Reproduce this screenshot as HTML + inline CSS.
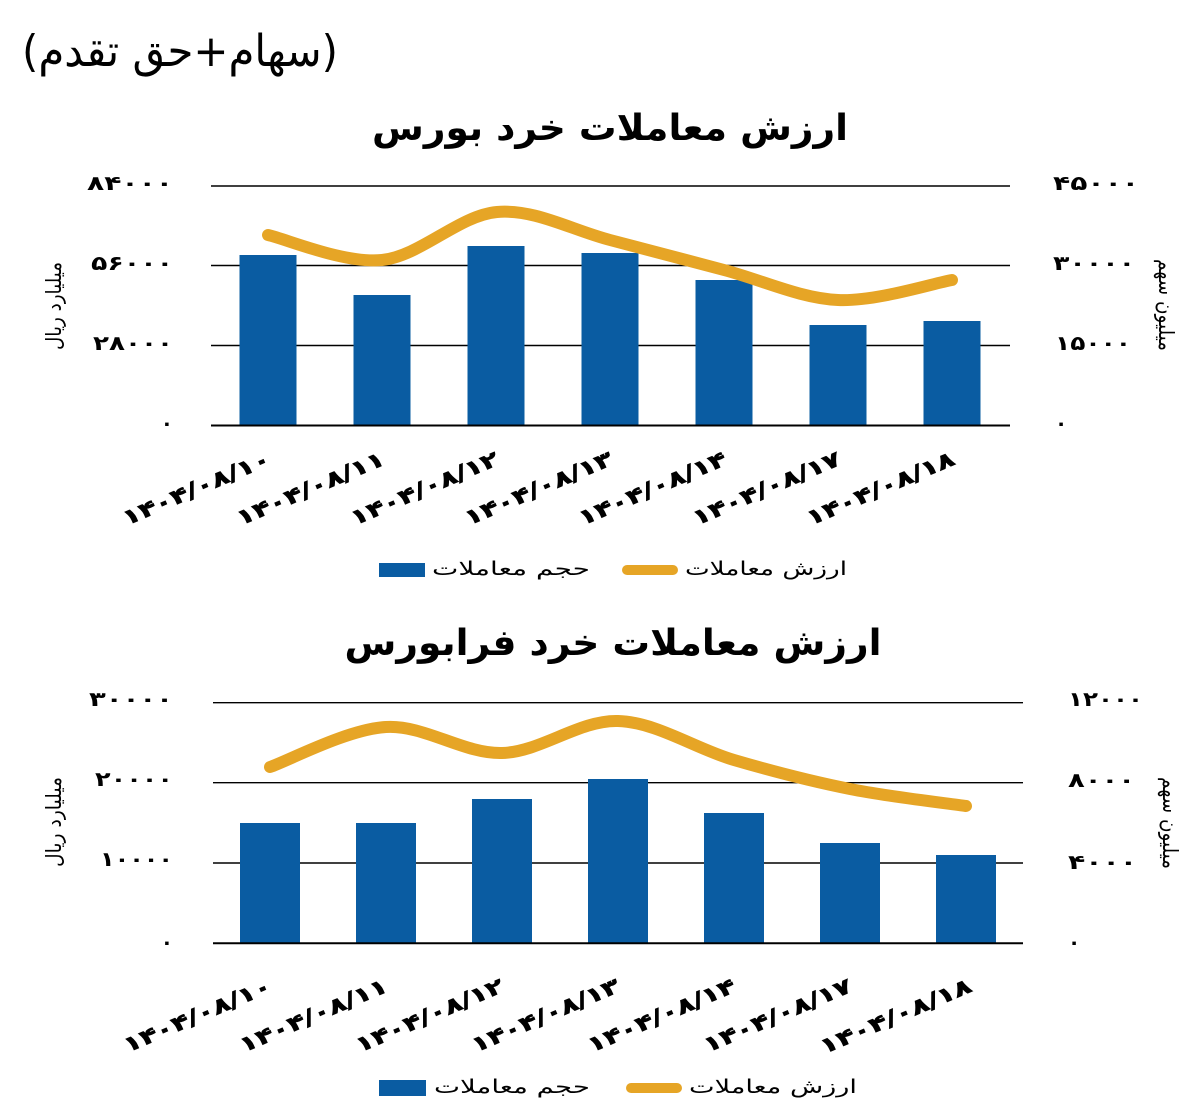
<!DOCTYPE html>
<html><head><meta charset="utf-8"><style>
html,body{margin:0;padding:0;background:#fff;}
svg{display:block;}
text{font-family:"DejaVu Sans","Liberation Sans",sans-serif;fill:#000;}
.b{font-weight:bold;}
.xl text{stroke:#000;stroke-width:0.7px;}
</style></head><body>
<svg width="1200" height="1115" viewBox="0 0 1200 1115" xmlns="http://www.w3.org/2000/svg">
<rect width="1200" height="1115" fill="#fff"/>

<!-- header -->
<text x="180" y="66" text-anchor="middle" direction="rtl" font-size="44" textLength="316" lengthAdjust="spacingAndGlyphs">(سهام+حق تقدم)</text>

<!-- ===== Chart 1 ===== -->
<text class="b" x="610" y="140" text-anchor="middle" direction="rtl" font-size="36" textLength="476" lengthAdjust="spacingAndGlyphs">ارزش معاملات خرد بورس</text>

<g stroke="#000" stroke-width="1.4">
<line x1="211" y1="186" x2="1010" y2="186"/>
<line x1="211" y1="265.5" x2="1010" y2="265.5"/>
<line x1="211" y1="345.5" x2="1010" y2="345.5"/>
</g>
<g fill="#0a5ca2">
<rect x="239.5" y="255" width="57" height="170.5"/>
<rect x="353.5" y="295" width="57" height="130.5"/>
<rect x="467.5" y="246" width="57" height="179.5"/>
<rect x="581.5" y="253" width="57" height="172.5"/>
<rect x="695.5" y="280" width="57" height="145.5"/>
<rect x="809.5" y="325" width="57" height="100.5"/>
<rect x="923.5" y="321" width="57" height="104.5"/>
</g>
<line x1="211" y1="425.5" x2="1010" y2="425.5" stroke="#000" stroke-width="2"/>
<path d="M268,235 C287,239.2 343.8,263.8 382,260 C420.2,256.2 459,215.3 497,212 C535,208.7 572.2,230.3 610,240 C647.8,249.7 686,260 724,270 C762,280 800,298.3 838,300 C876,301.7 933,283.3 952,280" fill="none" stroke="#e6a526" stroke-width="12" stroke-linecap="round" stroke-linejoin="round"/>

<!-- left ticks -->
<g class="b" font-size="20" text-anchor="end" direction="ltr">
<text x="173" y="190" textLength="86" lengthAdjust="spacingAndGlyphs">۸۴۰۰۰</text>
<text x="173" y="270" textLength="82" lengthAdjust="spacingAndGlyphs">۵۶۰۰۰</text>
<text x="173" y="350" textLength="80" lengthAdjust="spacingAndGlyphs">۲۸۰۰۰</text>
<text x="173" y="430">۰</text>
</g>
<!-- right ticks -->
<g class="b" font-size="20" text-anchor="start" direction="ltr">
<text x="1053" y="190" textLength="86" lengthAdjust="spacingAndGlyphs">۴۵۰۰۰</text>
<text x="1053" y="270" textLength="82" lengthAdjust="spacingAndGlyphs">۳۰۰۰۰</text>
<text x="1055" y="350" textLength="76" lengthAdjust="spacingAndGlyphs">۱۵۰۰۰</text>
<text x="1055" y="430">۰</text>
</g>
<text x="0" y="0" font-size="21" text-anchor="middle" direction="rtl" transform="translate(61 306) rotate(-90)" textLength="88" lengthAdjust="spacingAndGlyphs">میلیارد ریال</text>
<text x="0" y="0" font-size="21" text-anchor="middle" direction="rtl" transform="translate(1159 305) rotate(90)" textLength="92" lengthAdjust="spacingAndGlyphs">میلیون سهم</text>

<!-- x labels -->
<g class="b xl" font-size="21" text-anchor="end" direction="ltr">
<text transform="translate(272 464) rotate(-23)" textLength="158" lengthAdjust="spacingAndGlyphs">۱۴۰۴/۰۸/۱۰</text>
<text transform="translate(386 464) rotate(-23)" textLength="158" lengthAdjust="spacingAndGlyphs">۱۴۰۴/۰۸/۱۱</text>
<text transform="translate(500 464) rotate(-23)" textLength="158" lengthAdjust="spacingAndGlyphs">۱۴۰۴/۰۸/۱۲</text>
<text transform="translate(614 464) rotate(-23)" textLength="158" lengthAdjust="spacingAndGlyphs">۱۴۰۴/۰۸/۱۳</text>
<text transform="translate(728 464) rotate(-23)" textLength="158" lengthAdjust="spacingAndGlyphs">۱۴۰۴/۰۸/۱۴</text>
<text transform="translate(842 464) rotate(-23)" textLength="158" lengthAdjust="spacingAndGlyphs">۱۴۰۴/۰۸/۱۷</text>
<text transform="translate(956 464) rotate(-23)" textLength="158" lengthAdjust="spacingAndGlyphs">۱۴۰۴/۰۸/۱۸</text>
</g>

<!-- legend 1 -->
<rect x="379" y="563" width="46" height="14" fill="#0a5ca2"/>
<text x="511" y="575" font-size="19" text-anchor="middle" direction="rtl" textLength="158" lengthAdjust="spacingAndGlyphs">حجم معاملات</text>
<rect x="622" y="565" width="56" height="10" rx="5" fill="#e6a526"/>
<text x="766" y="575" font-size="19" text-anchor="middle" direction="rtl" textLength="162" lengthAdjust="spacingAndGlyphs">ارزش معاملات</text>

<!-- ===== Chart 2 ===== -->
<text class="b" x="613" y="655" text-anchor="middle" direction="rtl" font-size="36" textLength="537" lengthAdjust="spacingAndGlyphs">ارزش معاملات خرد فرابورس</text>

<g stroke="#000" stroke-width="1.4">
<line x1="213" y1="702.7" x2="1023" y2="702.7"/>
<line x1="213" y1="782.7" x2="1023" y2="782.7"/>
<line x1="213" y1="863" x2="1023" y2="863"/>
</g>
<g fill="#0a5ca2">
<rect x="240" y="823" width="60" height="120"/>
<rect x="356" y="823" width="60" height="120"/>
<rect x="472" y="799" width="60" height="144"/>
<rect x="588" y="779" width="60" height="164"/>
<rect x="704" y="813" width="60" height="130"/>
<rect x="820" y="843" width="60" height="100"/>
<rect x="936" y="855" width="60" height="88"/>
</g>
<line x1="213" y1="943.3" x2="1023" y2="943.3" stroke="#000" stroke-width="2"/>
<path d="M270,767 C289.3,760.3 347.3,729.3 386,727 C424.7,724.7 463.3,754 502,753 C540.7,752 579.3,719.8 618,721 C656.7,722.2 695.3,748.7 734,760 C772.7,771.3 811.3,781.3 850,789 C888.7,796.7 946.7,803.2 966,806" fill="none" stroke="#e6a526" stroke-width="12" stroke-linecap="round" stroke-linejoin="round"/>

<g class="b" font-size="20" text-anchor="end" direction="ltr">
<text x="173" y="706" textLength="84" lengthAdjust="spacingAndGlyphs">۳۰۰۰۰</text>
<text x="173" y="786" textLength="78" lengthAdjust="spacingAndGlyphs">۲۰۰۰۰</text>
<text x="173" y="866" textLength="73" lengthAdjust="spacingAndGlyphs">۱۰۰۰۰</text>
<text x="173" y="949">۰</text>
</g>
<g class="b" font-size="20" text-anchor="start" direction="ltr">
<text x="1068" y="706" textLength="75" lengthAdjust="spacingAndGlyphs">۱۲۰۰۰</text>
<text x="1068" y="787" textLength="67" lengthAdjust="spacingAndGlyphs">۸۰۰۰</text>
<text x="1068" y="869" textLength="69" lengthAdjust="spacingAndGlyphs">۴۰۰۰</text>
<text x="1068" y="949">۰</text>
</g>
<text x="0" y="0" font-size="21" text-anchor="middle" direction="rtl" transform="translate(61 822) rotate(-90)" textLength="90" lengthAdjust="spacingAndGlyphs">میلیارد ریال</text>
<text x="0" y="0" font-size="21" text-anchor="middle" direction="rtl" transform="translate(1163 823) rotate(90)" textLength="92" lengthAdjust="spacingAndGlyphs">میلیون سهم</text>

<g class="b xl" font-size="21" text-anchor="end" direction="ltr">
<text transform="translate(273 991) rotate(-23)" textLength="158" lengthAdjust="spacingAndGlyphs">۱۴۰۴/۰۸/۱۰</text>
<text transform="translate(389 991) rotate(-23)" textLength="158" lengthAdjust="spacingAndGlyphs">۱۴۰۴/۰۸/۱۱</text>
<text transform="translate(505 991) rotate(-23)" textLength="158" lengthAdjust="spacingAndGlyphs">۱۴۰۴/۰۸/۱۲</text>
<text transform="translate(621 991) rotate(-23)" textLength="158" lengthAdjust="spacingAndGlyphs">۱۴۰۴/۰۸/۱۳</text>
<text transform="translate(737 991) rotate(-23)" textLength="158" lengthAdjust="spacingAndGlyphs">۱۴۰۴/۰۸/۱۴</text>
<text transform="translate(853 991) rotate(-23)" textLength="158" lengthAdjust="spacingAndGlyphs">۱۴۰۴/۰۸/۱۷</text>
<text transform="translate(973 991) rotate(-23)" textLength="162" lengthAdjust="spacingAndGlyphs">۱۴۰۴/۰۸/۱۸</text>
</g>

<!-- legend 2 -->
<rect x="379" y="1080" width="47" height="16" fill="#0a5ca2"/>
<text x="512" y="1093" font-size="19" text-anchor="middle" direction="rtl" textLength="156" lengthAdjust="spacingAndGlyphs">حجم معاملات</text>
<rect x="626" y="1083" width="56" height="10" rx="5" fill="#e6a526"/>
<text x="773" y="1093" font-size="19" text-anchor="middle" direction="rtl" textLength="168" lengthAdjust="spacingAndGlyphs">ارزش معاملات</text>
</svg>
</body></html>
